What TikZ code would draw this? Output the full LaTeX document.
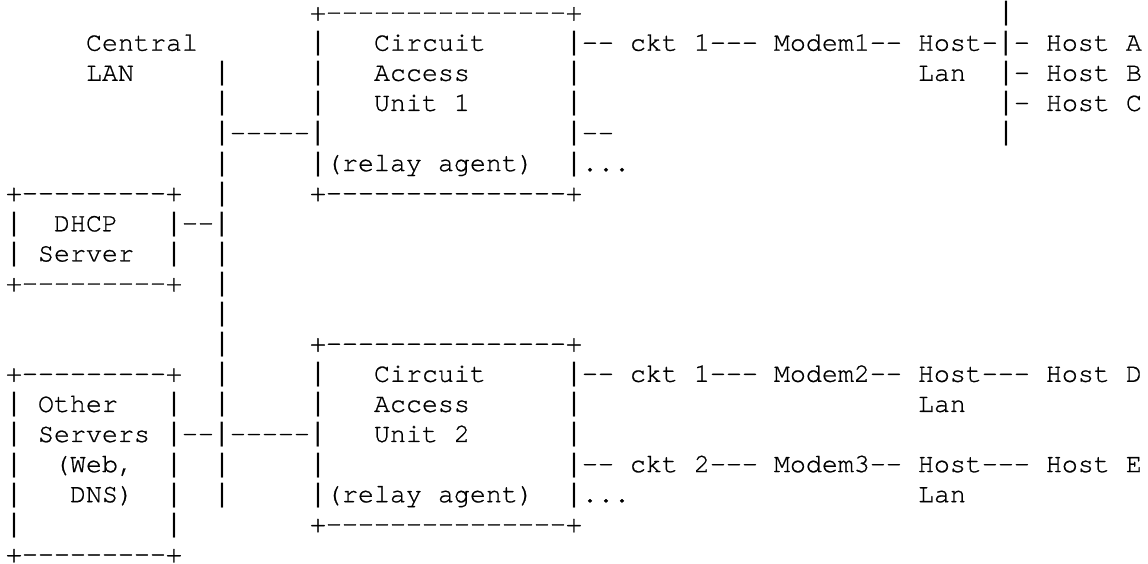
\documentclass[tikz,border=0pt]{standalone}
\usepackage{fontspec}
\setmonofont[FakeBold=0.8]{texgyrecursor-regular.otf}
\newfontfamily\barfont{Liberation Mono}
% tall bar, as in the drawing
\newcommand{\vb}{{\barfont|}}
\tikzset{
    ascii/.style={anchor=base west, inner sep=0pt, outer sep=0pt, text=black, font=\ttfamily\fontsize{13.33}{15}\selectfont},
}
\begin{document}
\begin{tikzpicture}[x=8pt, y=-15.05pt]
      \fill [white] (-0.375,-0.684) rectangle (71.375,18.053);
      \useasboundingbox (-0.375,-0.684) rectangle (71.375,18.053);
      %%%%%%%%%%%%%%%
      % Central LAN %
      %%%%%%%%%%%%%%%
      \node (lan_name1) [ascii] at (5,1) {Central};
      \node (lan_name2) [ascii] at (5,2) {LAN};
      \node (lan_bus2) [ascii] at (13,2) {\vb};
      \node (lan_bus3) [ascii] at (13,3) {\vb};
      \node (lan_bus4) [ascii] at (13,4) {\vb-----\vb};
      \node (lan_bus5) [ascii] at (13,5) {\vb};
      \node (lan_bus6) [ascii] at (13,6) {\vb};
      \node (lan_bus8) [ascii] at (13,8) {\vb};
      \node (lan_bus9) [ascii] at (13,9) {\vb};
      \node (lan_bus10) [ascii] at (13,10) {\vb};
      \node (lan_bus11) [ascii] at (13,11) {\vb};
      \node (lan_bus12) [ascii] at (13,12) {\vb};
      \node (lan_bus13) [ascii] at (13,13) {\vb};
      \node (lan_bus15) [ascii] at (13,15) {\vb};
      \node (lan_bus16) [ascii] at (13,16) {\vb};
      %%%%%%%%%%%%%%%
      % DHCP server %
      %%%%%%%%%%%%%%%
      \node (dhcp_top) [ascii] at (0,6) {+---------+};
      \node (dhcp_left1) [ascii] at (0,7) {\vb};
      \node (dhcp_name1) [ascii] at (3,7) {DHCP};
      \node (dhcp_link) [ascii] at (10,7) {\vb--\vb};
      \node (dhcp_left2) [ascii] at (0,8) {\vb};
      \node (dhcp_name2) [ascii] at (2,8) {Server};
      \node (dhcp_right2) [ascii] at (10,8) {\vb};
      \node (dhcp_bottom) [ascii] at (0,9) {+---------+};
      %%%%%%%%%%%%%%%%%
      % Other servers %
      %%%%%%%%%%%%%%%%%
      \node (other_top) [ascii] at (0,12) {+---------+};
      \node (other_left1) [ascii] at (0,13) {\vb};
      \node (other_name1) [ascii] at (2,13) {Other};
      \node (other_right1) [ascii] at (10,13) {\vb};
      \node (other_left2) [ascii] at (0,14) {\vb};
      \node (other_name2) [ascii] at (2,14) {Servers};
      \node (other_link) [ascii] at (10,14) {\vb--\vb-----\vb};
      \node (other_left3) [ascii] at (0,15) {\vb};
      \node (other_name3) [ascii] at (3,15) {(Web,};
      \node (other_right3) [ascii] at (10,15) {\vb};
      \node (other_left4) [ascii] at (0,16) {\vb};
      \node (other_name4) [ascii] at (4,16) {DNS)};
      \node (other_right4) [ascii] at (10,16) {\vb};
      \node (other_left5) [ascii] at (0,17) {\vb};
      \node (other_right5) [ascii] at (10,17) {\vb};
      \node (other_bottom) [ascii] at (0,18) {+---------+};
      %%%%%%%%%%%%%%%%%%%%%%%%%%
      % Circuit Access Unit 1 %
      %%%%%%%%%%%%%%%%%%%%%%%%%%
      \node (unit1_top) [ascii] at (19,0) {+---------------+};
      \node (unit1_left1) [ascii] at (19,1) {\vb};
      \node (unit1_name1) [ascii] at (23,1) {Circuit};
      \node (unit1_ckt1) [ascii] at (35,1) {\vb-- ckt 1--- Modem1-- Host-\vb- Host A};
      \node (unit1_left2) [ascii] at (19,2) {\vb};
      \node (unit1_name2) [ascii] at (23,2) {Access};
      \node (unit1_right2) [ascii] at (35,2) {\vb};
      \node (unit1_left3) [ascii] at (19,3) {\vb};
      \node (unit1_name3) [ascii] at (23,3) {Unit 1};
      \node (unit1_right3) [ascii] at (35,3) {\vb};
      \node (unit1_right4) [ascii] at (35,4) {\vb--};
      \node (unit1_relay) [ascii] at (19,5) {\vb(relay agent)};
      \node (unit1_more) [ascii] at (35,5) {\vb...};
      \node (unit1_bottom) [ascii] at (19,6) {+---------------+};
      %%%%%%%%%%%%
      % Host LAN %
      %%%%%%%%%%%%
      \node (hostlan_bus0) [ascii] at (62,0) {\vb};
      \node (hostlan_name) [ascii] at (57,2) {Lan};
      \node (host_b) [ascii] at (62,2) {\vb- Host B};
      \node (host_c) [ascii] at (62,3) {\vb- Host C};
      \node (hostlan_bus4) [ascii] at (62,4) {\vb};
      %%%%%%%%%%%%%%%%%%%%%%%%%%
      % Circuit Access Unit 2 %
      %%%%%%%%%%%%%%%%%%%%%%%%%%
      \node (unit2_top) [ascii] at (19,11) {+---------------+};
      \node (unit2_left1) [ascii] at (19,12) {\vb};
      \node (unit2_name1) [ascii] at (23,12) {Circuit};
      \node (unit2_ckt1) [ascii] at (35,12) {\vb-- ckt 1--- Modem2-- Host--- Host D};
      \node (unit2_left2) [ascii] at (19,13) {\vb};
      \node (unit2_name2) [ascii] at (23,13) {Access};
      \node (unit2_right2) [ascii] at (35,13) {\vb};
      \node (hostlan_d) [ascii] at (57,13) {Lan};
      \node (unit2_name3) [ascii] at (23,14) {Unit 2};
      \node (unit2_right3) [ascii] at (35,14) {\vb};
      \node (unit2_left4) [ascii] at (19,15) {\vb};
      \node (unit2_ckt2) [ascii] at (35,15) {\vb-- ckt 2--- Modem3-- Host--- Host E};
      \node (unit2_relay) [ascii] at (19,16) {\vb(relay agent)};
      \node (unit2_more) [ascii] at (35,16) {\vb...};
      \node (hostlan_e) [ascii] at (57,16) {Lan};
      \node (unit2_bottom) [ascii] at (19,17) {+---------------+};
\end{tikzpicture}
\end{document}
